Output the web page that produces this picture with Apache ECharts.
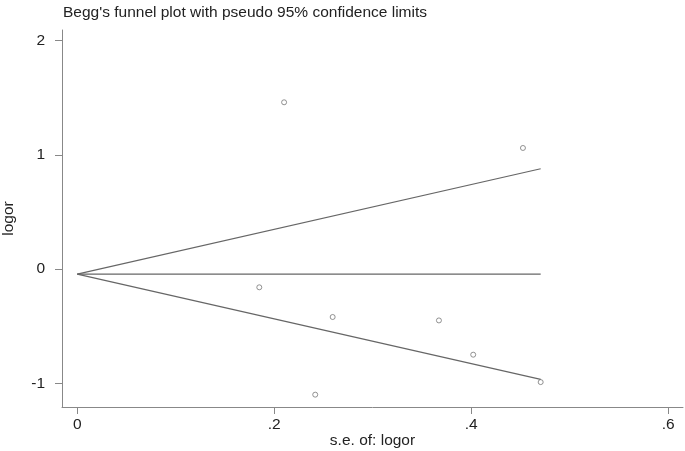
<!DOCTYPE html>
<html><head><meta charset="utf-8">
<script src="https://cdn.jsdelivr.net/npm/echarts@6/dist/echarts.min.js"></script>
<style>html,body{margin:0;padding:0;background:#fff}#c{width:685px;height:451px}</style>
</head><body><div id="c"></div>
<script>
const seVals = [0.210, 0.4525, 0.1848, 0.2593, 0.3672, 0.402, 0.2416, 0.4705];
const logorVals = [1.46, 1.06, -0.16, -0.42, -0.45, -0.75, -1.10, -0.99];
const pooled = -0.044;
const funnelEndSe = 0.4705;
const upperEnd = 0.878;
const lowerEnd = -0.966;
const xTicks = [0, 0.2, 0.4, 0.6];
const xTickLabels = ['0', '.2', '.4', '.6'];
const yTicks = [-1, 0, 1, 2];

const points = seVals.map((s, i) => [s, logorVals[i]]);
const font = 'Liberation Sans, Arial, sans-serif';
const fs = 15.5;
const chart = echarts.init(document.getElementById('c'), null, {renderer: 'canvas'});
chart.setOption({
  animation: false,
  backgroundColor: '#fff',
  title: {
    text: "Begg's funnel plot with pseudo 95% confidence limits",
    left: 58, top: 0,
    textStyle: {fontFamily: font, fontSize: fs, fontWeight: 'normal', color: '#222'}
  },
  grid: {left: 62, right: 2, top: 30, bottom: 44, containLabel: false, outerBoundsMode: 'none'},
  xAxis: {
    type: 'value', min: -0.0155, max: 0.615,
    name: 's.e. of: logor', nameLocation: 'middle', nameGap: 26, nameMoveOverlap: false,
    nameTextStyle: {fontFamily: font, fontSize: fs, color: '#222'},
    splitLine: {show: false},
    axisLine: {onZero: false, lineStyle: {color: '#888', width: 1}},
    axisTick: {show: true, length: 7, customValues: xTicks, lineStyle: {color: '#888'}},
    axisLabel: {customValues: xTicks, fontFamily: font, fontSize: fs, color: '#222', margin: 10,
      formatter: v => { const i = xTicks.findIndex(t => Math.abs(t - v) < 1e-6); return i >= 0 ? xTickLabels[i] : ''; }}
  },
  yAxis: {
    type: 'value', min: -1.208, max: 2.093,
    name: 'logor', nameLocation: 'middle', nameGap: 45, nameRotate: 90,
    nameTextStyle: {fontFamily: font, fontSize: fs, color: '#222'},
    splitLine: {show: false},
    axisLine: {show: true, onZero: false, lineStyle: {color: '#888', width: 1}},
    axisTick: {show: true, length: 7, customValues: yTicks, lineStyle: {color: '#888'}},
    axisLabel: {customValues: yTicks, fontFamily: font, fontSize: fs, color: '#222', margin: 17,
      formatter: v => String(Math.round(v))}
  },
  series: [
    {type: 'line', data: [[0, pooled], [funnelEndSe, upperEnd]], symbol: 'none',
      lineStyle: {color: '#666', width: 1.2}},
    {type: 'line', data: [[0, pooled], [funnelEndSe, pooled]], symbol: 'none',
      lineStyle: {color: '#666', width: 1.2}},
    {type: 'line', data: [[0, pooled], [funnelEndSe, lowerEnd]], symbol: 'none',
      lineStyle: {color: '#666', width: 1.2}},
    {type: 'scatter', data: points, symbol: 'circle', symbolSize: 5,
      itemStyle: {color: '#fff', borderColor: '#777', borderWidth: 1}}
  ]
});
</script></body></html>
